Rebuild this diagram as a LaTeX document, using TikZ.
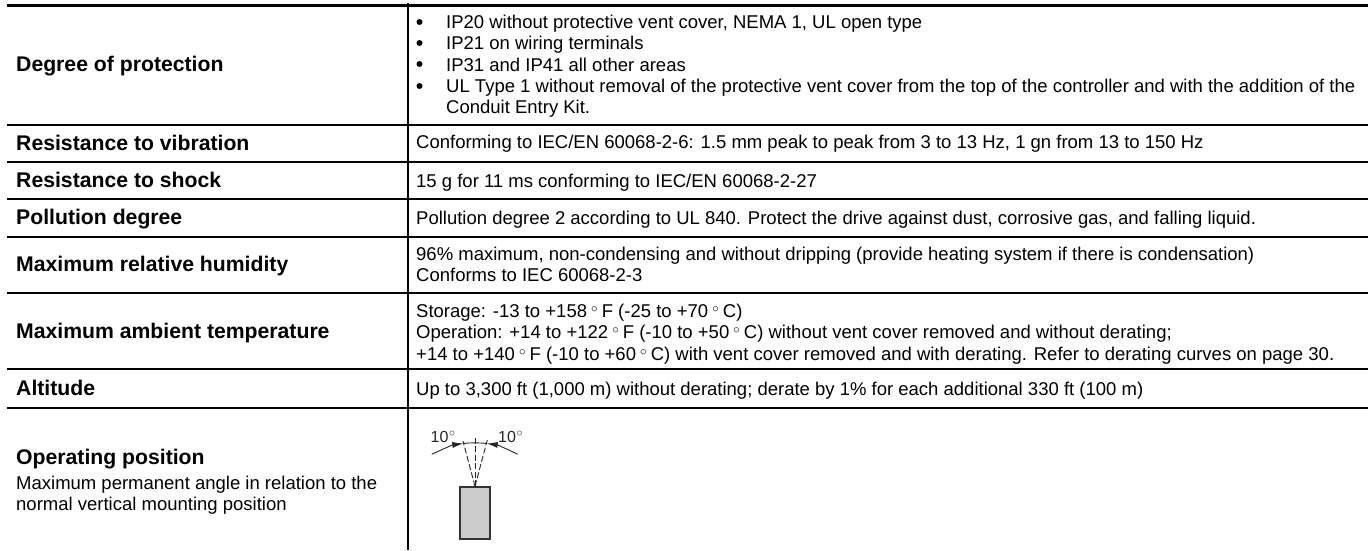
\documentclass[tikz,border=0pt]{standalone}
\usepackage{fontspec}
\setmainfont{Liberation Sans}
\usetikzlibrary{arrows.meta}
\newcommand{\dg}{\kern4.1pt\raisebox{0.5ex}{\scalebox{0.75}{$\circ$}}\kern4.1pt}
\newcommand{\lbldg}{\kern0.5pt\raisebox{0.75ex}{\fontsize{13}{13}\selectfont$\circ$}}
\tikzset{
  x=1pt,y=-1pt,
  rulethin/.style={line width=1.9pt,black},
  topthick/.style={line width=3pt,black},
  head/.style={anchor=base west,inner sep=0pt,font=\fontsize{21.2}{24}\selectfont\bfseries},
  body/.style={anchor=north west,inner sep=0pt,align=left,font=\fontsize{18.5}{21.2}\selectfont},
  one/.style={anchor=base west,inner sep=0pt,font=\fontsize{18.5}{21}\selectfont},
  bul/.style={circle,fill=black,inner sep=0pt,minimum size=6pt},
  thinarc/.style={line width=0.9pt,black!85},
  dashray/.style={line width=0.9pt,black!85,dash pattern=on 6pt off 2.5pt},
  device/.style={draw=black!80,line width=1.3pt,fill=black!20,minimum width=30pt,minimum height=52pt,inner sep=0pt},
  anglab/.style={anchor=base west,inner sep=0pt,font=\fontsize{16}{19}\selectfont,black!85},
}
\begin{document}
\begin{tikzpicture}
\useasboundingbox (0,0) rectangle (1368,550);
\coordinate (tl) at (7,5.3);\coordinate (tr) at (1368,5.3);
\draw[topthick] (tl) -- (tr);
\coordinate (cola) at (408,3);\coordinate (colb) at (408,550);
\draw[line width=1.7pt] (cola) -- (colb);
\foreach \yy in {125,162,199,237,293,369,408}{
  \coordinate (a\yy) at (7,\yy);\coordinate (b\yy) at (1368,\yy);
  \draw[rulethin] (a\yy) -- (b\yy);
}
\node[head] (h1) at (16,71.5) {Degree of protection};
\node[head] (h2) at (16,150) {Resistance to vibration};
\node[head] (h3) at (16,187) {Resistance to shock};
\node[head] (h4) at (16,224) {Pollution degree};
\node[head] (h5) at (16,271) {Maximum relative humidity};
\node[head] (h6) at (16,338) {Maximum ambient temperature};
\node[head] (h7) at (16,395) {Altitude};
\node[head] (h8) at (16,464) {Operating position};
\node[body] (s8) at (16,476) {Maximum permanent angle in relation to the\\normal vertical mounting position};
\node[body] (b1) at (446,15) {IP20 without protective vent cover, NEMA 1, UL open type\\IP21 on wiring terminals\\IP31 and IP41 all other areas\\UL Type 1 without removal of the protective vent cover from the top of the controller and with the addition of the\\Conduit Entry Kit.};
\foreach \xx/\yy in {a/22,b/43,c/64,d/86}{\node[bul] (bullet\xx) at (419.5,\yy) {};}
\node[one] (b2) at (416,148) {Conforming to IEC/EN 60068-2-6: 1.5 mm peak to peak from 3 to 13 Hz, 1 gn from 13 to 150 Hz};
\node[one] (b3) at (416,187) {15 g for 11 ms conforming to IEC/EN 60068-2-27};
\node[one] (b4) at (416,224) {Pollution degree 2 according to UL 840. Protect the drive against dust, corrosive gas, and falling liquid.};
\node[body] (b5) at (416,247) {96\% maximum, non-condensing and without dripping (provide heating system if there is condensation)\\Conforms to IEC 60068-2-3};
\node[body] (b6) at (416,304) {Storage: -13 to +158\dg F (-25 to +70\dg C)\\Operation: +14 to +122\dg F (-10 to +50\dg C) without vent cover removed and without derating;\\+14 to +140\dg F (-10 to +60\dg C) with vent cover removed and with derating. Refer to derating curves on page 30.};
\node[one] (b7) at (416,395) {Up to 3,300 ft (1,000 m) without derating; derate by 1\% for each additional 330 ft (100 m)};
% mounting sketch
\node[device] (dev) at (475,513) {};
\coordinate (arcL) at (431.7,454.3);
\coordinate (tipL) at (463.3,443.5);
\coordinate (tipR) at (486.7,443.5);
\coordinate (arcR) at (517.7,454.3);
\coordinate (rayL) at (463,441);
\coordinate (rayT) at (475,438);
\coordinate (rayR) at (487.3,440);
\draw[thinarc,-{Latex[length=11pt,width=6pt]}] (arcL) .. controls (441,450) and (452,445) .. (tipL);
\draw[thinarc,-{Latex[length=11pt,width=6pt]}] (arcR) .. controls (509,450) and (498,445) .. (tipR);
\draw[thinarc] (tipL) .. controls (468,442.7) and (482,442.7) .. (tipR);
\draw[dashray] (dev.north) -- (rayL);
\draw[dashray] (dev.north) -- (rayT);
\draw[dashray] (dev.north) -- (rayR);
\node[anglab] (l1) at (430.5,442.7) {10\lbldg};
\node[anglab] (l2) at (498,442.7) {10\lbldg};
\end{tikzpicture}
\end{document}
